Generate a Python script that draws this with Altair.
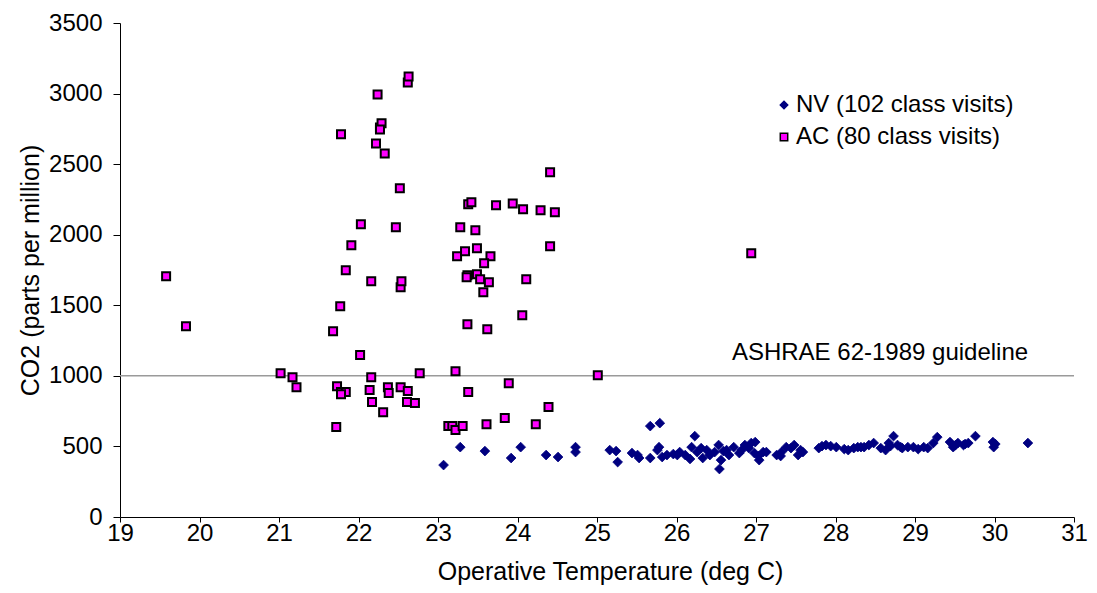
import altair as alt
import pandas as pd

# NV (naturally ventilated) classroom visits
nv_temp = [23.07, 23.28, 23.59, 23.92, 24.04, 24.36, 24.51, 24.73, 24.73, 25.16,
           25.24, 25.26, 25.44, 25.53, 25.67, 25.79, 25.67, 25.78, 25.82, 25.88,
           25.96, 26.04, 26.11, 26.17, 26.23, 26.19, 26.31, 26.33, 26.42, 26.53,
           26.59, 26.56, 26.54, 26.66, 26.72, 26.79, 26.86, 26.94, 26.99, 26.98,
           27.04, 27.09, 27.26, 27.32, 27.38, 27.48, 27.53, 27.59, 27.79, 27.88,
           28.01, 28.16, 28.23, 28.32, 28.36, 28.42, 28.48, 28.63, 28.67, 28.73,
           28.78, 28.84, 28.91, 29.04, 29.16, 29.23, 29.28, 29.44, 29.48, 29.54,
           29.61, 29.67, 29.76, 29.98, 29.99, 30.42, 25.51, 25.76, 26.01, 26.26,
           26.38, 26.48, 26.63, 26.82, 26.91, 27.03, 27.13, 27.44, 27.56, 27.83,
           27.94, 28.11, 28.28, 28.57, 28.69, 28.82, 28.98, 29.11, 29.51, 29.63,
           30.01, 27.31]
nv_co2 = [368, 495, 467, 418, 495, 439, 425, 495, 460, 474,
          467, 389, 453, 418, 644, 665, 418, 495, 425, 439,
          446, 460, 439, 411, 573, 495, 488, 418, 439, 510,
          467, 403, 340, 439, 495, 453, 510, 524, 531, 453,
          403, 460, 439, 460, 495, 510, 439, 460, 488, 510,
          495, 474, 488, 495, 495, 510, 524, 474, 524, 573,
          510, 488, 495, 481, 488, 524, 566, 531, 495, 524,
          510, 524, 573, 531, 495, 524, 439, 474, 439, 460,
          474, 460, 474, 474, 488, 432, 460, 488, 474, 502,
          502, 481, 495, 488, 502, 495, 495, 495, 510, 517,
          517, 432]

# AC (air conditioned) classroom visits
ac_temp = [19.58, 19.83, 21.02, 21.17, 21.22, 21.68, 21.72, 21.73, 21.77, 21.78,
           21.78, 21.84, 21.84, 21.91, 22.03, 22.02, 22.16, 22.16, 22.14, 22.17,
           22.22, 22.24, 22.27, 22.29, 22.31, 22.33, 22.37, 22.38, 22.47, 22.52,
           22.53, 22.54, 22.53, 22.62, 22.61, 22.62, 22.63, 22.71, 22.77, 23.22,
           23.13, 23.18, 23.22, 23.31, 23.38, 23.28, 23.24, 23.34, 23.37, 23.36,
           23.37, 23.38, 23.42, 23.47, 23.49, 23.66, 23.58, 23.49, 23.53, 23.64,
           23.57, 23.62, 23.73, 23.94, 24.07, 24.29, 24.47, 24.41, 24.11, 24.06,
           23.89, 23.84, 23.61, 24.23, 24.39, 25.01, 26.94, 24.41, 22.27, 21.78]
ac_co2 = [1705, 1352, 1019, 991, 920, 1316, 637, 927, 1493, 2711,
          885, 1748, 885, 1925, 2074, 1147, 1670, 991, 899, 814,
          2647, 2994, 2760, 2789, 743, 2576, 920, 878, 2053, 2329,
          1628, 1670, 920, 892, 814, 3079, 3121, 807, 1019, 1033,
          644, 644, 616, 644, 885, 2053, 1847, 1883, 1713, 1699,
          1366, 2215, 2230, 2031, 1904, 1847, 1798, 1720, 1684, 1663,
          1593, 1331, 2208, 2222, 2180, 2173, 2159, 1918, 1684, 1430,
          948, 701, 658, 658, 779, 1005, 1869, 2442, 2746, 870]

groups = ["NV (102 class visits)", "AC (80 class visits)"]
guideline_value = 1000
guideline_label = "ASHRAE 62-1989 guideline"
x_ticks = list(range(19, 32))
y_ticks = list(range(0, 3501, 500))

df = pd.concat([
    pd.DataFrame({"temp": nv_temp, "co2": nv_co2, "group": groups[0], "sw": "n"}),
    pd.DataFrame({"temp": ac_temp, "co2": ac_co2, "group": groups[1], "sw": "a"}),
], ignore_index=True)

FONT = "Liberation Sans"
XS = alt.Scale(domain=[19, 31], nice=False, zero=False)
YS = alt.Scale(domain=[0, 3500], nice=False)

x_enc = alt.X("temp:Q", scale=XS,
              axis=alt.Axis(title="Operative Temperature (deg C)", values=x_ticks, format="d",
                            grid=False, tickSize=5, labelPadding=-1, labelFlush=False,
                            titleY=62, titleBaseline="alphabetic", titleX=490,
                            titleFontSize=25))
y_enc = alt.Y("co2:Q", scale=YS,
              axis=alt.Axis(title="CO2 (parts per million)", values=y_ticks, format="d",
                            grid=False, tickSize=7, labelPadding=11,
                            titleX=-90, titleY=247, titleBaseline="middle",
                            titleAlign="center", titleAngle=-90, titleFontSize=25))

rule = alt.Chart(pd.DataFrame({"v": [guideline_value]})).mark_rule(
    color="#9a9a9a", strokeWidth=1.5
).encode(y=alt.Y("v:Q", scale=YS))

label = alt.Chart(pd.DataFrame({"t": [28.56], "v": [guideline_value], "txt": [guideline_label]})).mark_text(
    font=FONT, fontSize=24, color="black", dy=-23, align="center", baseline="middle"
).encode(x=alt.X("t:Q", scale=XS), y=alt.Y("v:Q", scale=YS), text="txt:N")

leg = dict(title=None, orient="none", legendX=652, legendY=70,
           labelFont=FONT, labelFontSize=24, labelOffset=0, labelLimit=500,
           symbolSize=55, symbolStrokeWidth=1.5, rowPadding=8,
           padding=0, labelColor="black")

points = alt.Chart(df).mark_point(filled=True, opacity=1).encode(
    x=x_enc,
    y=y_enc,
    color=alt.Color("group:N", scale=alt.Scale(domain=groups, range=["#000080", "#ff00ff"]),
                    legend=alt.Legend(**leg)),
    shape=alt.Shape("group:N", scale=alt.Scale(domain=groups, range=["diamond", "square"]),
                    legend=alt.Legend(**leg)),
    stroke=alt.Stroke("group:N", scale=alt.Scale(domain=groups, range=["#000080", "#000000"]),
                      legend=alt.Legend(**leg)),
    strokeWidth=alt.StrokeWidth("sw:N", scale=alt.Scale(domain=["n", "a"], range=[0.8, 2]), legend=None),
    size=alt.Size("sw:N", scale=alt.Scale(domain=["n", "a"], range=[95, 64]), legend=None),
)

chart = alt.layer(rule, label, points).properties(
    width=954, height=494,
    autosize=alt.AutoSizeParams(type="none"),
    padding={"left": 112, "top": 15, "right": 15, "bottom": 68},
    background="white",
).configure_view(stroke=None).configure_axis(
    labelFont=FONT, titleFont=FONT, labelFontSize=24, titleFontSize=25,
    labelColor="black", titleColor="black", titleFontWeight="normal",
    domainColor="black", tickColor="black", domainWidth=1, tickWidth=1,
)

chart.save("out.html", embed_options={"renderer": "svg", "actions": False})
